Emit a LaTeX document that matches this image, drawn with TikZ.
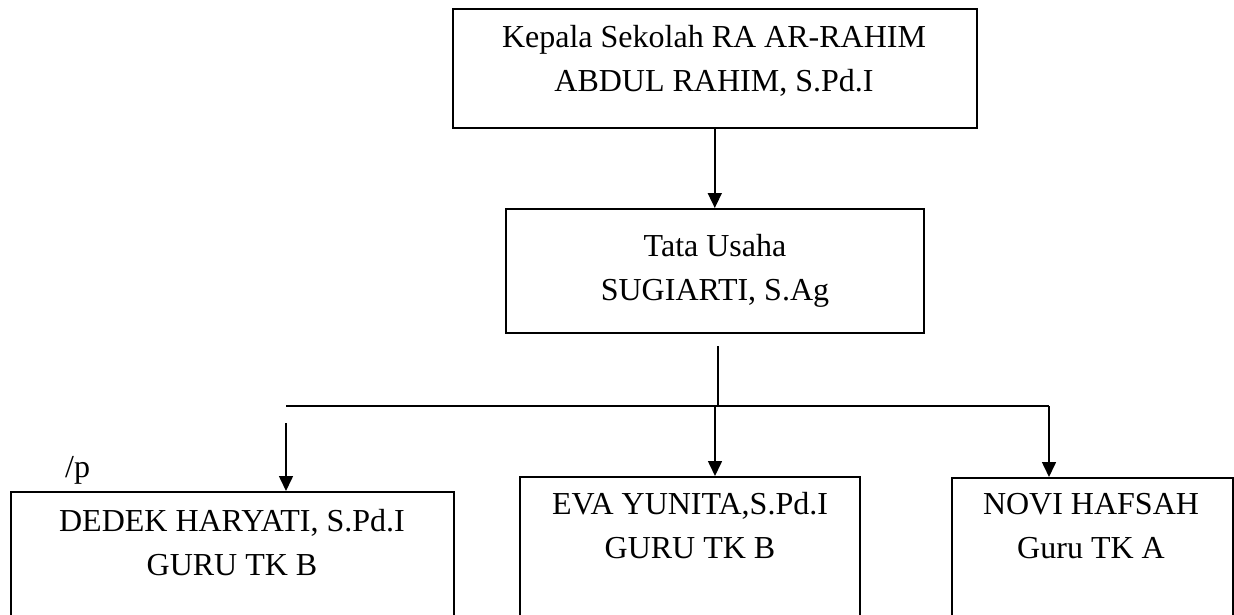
\documentclass[tikz,border=0pt]{standalone}
\usepackage{fontspec}
\setmainfont{Liberation Serif}
\usepackage{tikz}
\usetikzlibrary{arrows.meta}

\begin{document}
\begin{tikzpicture}[
    x=1pt, y=-1pt,
    jabatan/.style={
        rectangle, draw, line width=1.6pt,
        inner sep=0pt, anchor=north west
    },
    teks/.style={
        align=center, anchor=base, inner sep=0pt,
        font=\fontsize{32}{44}\selectfont
    },
    panah/.style={-{Triangle[length=15pt, width=14pt]}, line width=1.6pt},
    garis/.style={line width=1.6pt}
]
\useasboundingbox (0,0) rectangle (1234,615);
\clip (0,0) rectangle (1234,615);

% Boxes
\node[jabatan, minimum width=524pt, minimum height=119pt] (kepsek) at (452,8) {};
\node[jabatan, minimum width=418pt, minimum height=124pt] (tu) at (505,208) {};
\node[jabatan, minimum width=443pt, minimum height=160pt] (dedek) at (10,491) {};
\node[jabatan, minimum width=340pt, minimum height=170pt] (eva) at (519,476) {};
\node[jabatan, minimum width=281pt, minimum height=170pt] (novi) at (951,477) {};

% Texts (anchored at the baseline of the second line)
\node[teks] (kepsek-teks) at (714,92) {Kepala Sekolah RA AR-RAHIM\\ABDUL RAHIM, S.Pd.I};
\node[teks] (tu-teks) at (715,300) {Tata Usaha\\SUGIARTI, S.Ag};
\node[teks] (dedek-teks) at (232,575) {DEDEK HARYATI, S.Pd.I\\GURU TK B};
\node[teks] (eva-teks) at (690,558) {EVA YUNITA,S.Pd.I\\GURU TK B};
\node[teks] (novi-teks) at (1091,558) {NOVI HAFSAH\\Guru TK A};
\node[teks, anchor=base west] (catatan) at (65,477) {/p};

% Branch points
\coordinate (cabang-atas) at (718,346);
\coordinate (cabang) at (718,406);
\coordinate (garis-kiri) at (286,406);
\coordinate (garis-kanan) at (1049,406);
\coordinate (kiri-atas) at (286,423);
\coordinate (tengah) at (715,406);

% Arrows
\draw[panah] (kepsek.south -| tu.north) -- (tu.north);
\draw[garis] (cabang-atas) -- (cabang);
\draw[garis] (garis-kiri) -- (garis-kanan);
\draw[panah] (garis-kanan) -- (garis-kanan |- novi.north);
\draw[panah] (tengah) -- (tengah |- eva.north);
\draw[panah] (kiri-atas) -- (kiri-atas |- dedek.north);

\end{tikzpicture}
\end{document}
